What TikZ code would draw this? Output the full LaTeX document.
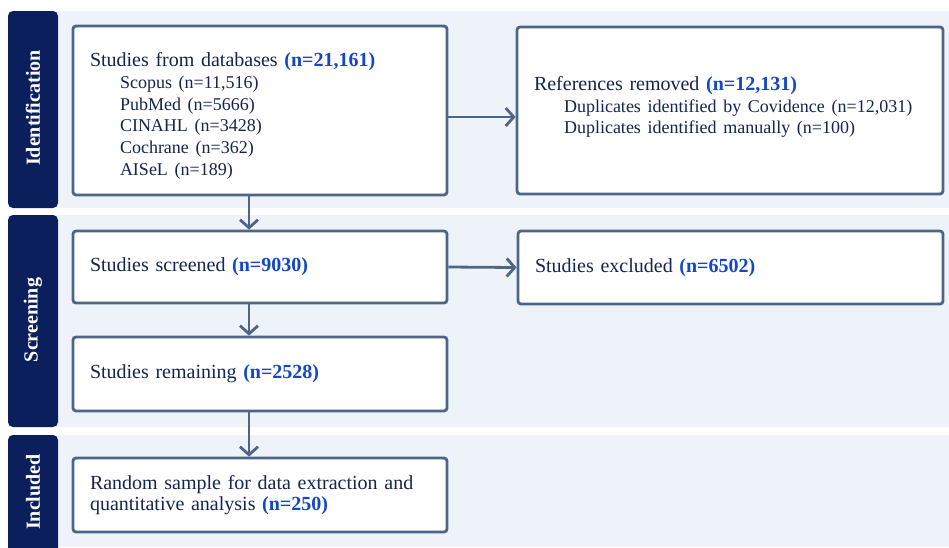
\documentclass[tikz,border=0pt]{standalone}
\usepackage{fontspec}
\setmainfont{Liberation Serif}
\usetikzlibrary{arrows.meta,positioning}
\definecolor{tabnavy}{HTML}{0B1F5C}
\definecolor{bandbg}{HTML}{EEF3FA}
\definecolor{edge}{HTML}{4F6587}
\definecolor{ink}{HTML}{16244F}
\definecolor{numblue}{HTML}{1346C8}
\newcommand{\cnt}[1]{\textcolor{numblue}{\textbf{#1}}}
\newcommand{\sub}[1]{\hspace*{30pt}{\fontsize{18}{21.7}\selectfont #1}}
\tikzset{
  band/.style={fill=bandbg},
  tab/.style={fill=tabnavy,rounded corners=5pt},
  tablbl/.style={rotate=90,text=white,font=\fontsize{20}{22}\selectfont\bfseries},
  box/.style={draw=edge,line width=2.8pt,fill=white,rounded corners=3pt,
    text=ink,align=left,inner xsep=17pt,font=\fontsize{20}{21.7}\selectfont},
  flow/.style={draw=edge,line width=2.8pt,-{Straight Barb[length=8pt,width=18pt]}},
}
\begin{document}
\begin{tikzpicture}[x=1pt,y=-1pt]
  \useasboundingbox (0,0) rectangle (949,547);
  % phase bands
  \fill[band] (8,11) rectangle (949,208);
  \fill[band] (8,215) rectangle (949,427);
  \fill[band] (8,435) rectangle (949,547);
  \fill[tab] (58,11) -- (8,11) -- (8,208) -- (58,208) -- cycle;
  \fill[tab] (58,215) -- (8,215) -- (8,427) -- (58,427) -- cycle;
  \fill[tab] (58,560) -- (8,560) -- (8,435) -- (58,435) -- cycle;
  \node[tablbl] (tid) at (33,108) {Identification};
  \node[tablbl] (tsc) at (33,320) {Screening};
  \node[tablbl] (tin) at (33,492) {Included};
  % boxes
  \node[box,minimum width=374pt,minimum height=169pt,text width=340pt] (b1) at (260,110.5)
    {\mbox{}\\[3pt]
     Studies from databases \cnt{(n=21,161)}\\
     \sub{Scopus (n=11,516)}\\
     \sub{PubMed (n=5666)}\\
     \sub{CINAHL (n=3428)}\\
     \sub{Cochrane (n=362)}\\
     \sub{AISeL (n=189)}};
  \node[box,minimum width=426pt,minimum height=167pt,text width=392pt] (b2) at (730,110.5)
    {References removed \cnt{(n=12,131)}\\
     \sub{Duplicates identified by Covidence (n=12,031)}\\
     \sub{Duplicates identified manually (n=100)}\\[-11pt]
     \mbox{}};
  \node[box,minimum width=374pt,minimum height=72pt,text width=340pt] (b3) at (260,267)
    {Studies screened \cnt{(n=9030)}};
  \node[box,minimum width=425pt,minimum height=73pt,text width=391pt] (b4) at (730.5,267.5)
    {Studies excluded \cnt{(n=6502)}};
  \node[box,minimum width=374pt,minimum height=74pt,text width=340pt] (b5) at (260,374)
    {Studies remaining \cnt{(n=2528)}};
  \node[box,minimum width=374pt,minimum height=74pt,text width=340pt] (b6) at (260,495)
    {Random sample for data extraction and\\
     quantitative analysis \cnt{(n=250)}};
  % arrows
  \draw[flow] ([xshift=-11pt]b1.south) -- ([xshift=-11pt]b3.north);
  \draw[flow] ([xshift=-11pt]b3.south) -- ([xshift=-11pt]b5.north);
  \draw[flow] ([xshift=-11pt]b5.south) -- ([xshift=-11pt]b6.north);
  \draw[flow] ([yshift=-6.5pt]b1.east) -- ([yshift=-6.5pt]b2.west);
  \draw[flow] (b3.east) -- (b4.west);
\end{tikzpicture}
\end{document}
